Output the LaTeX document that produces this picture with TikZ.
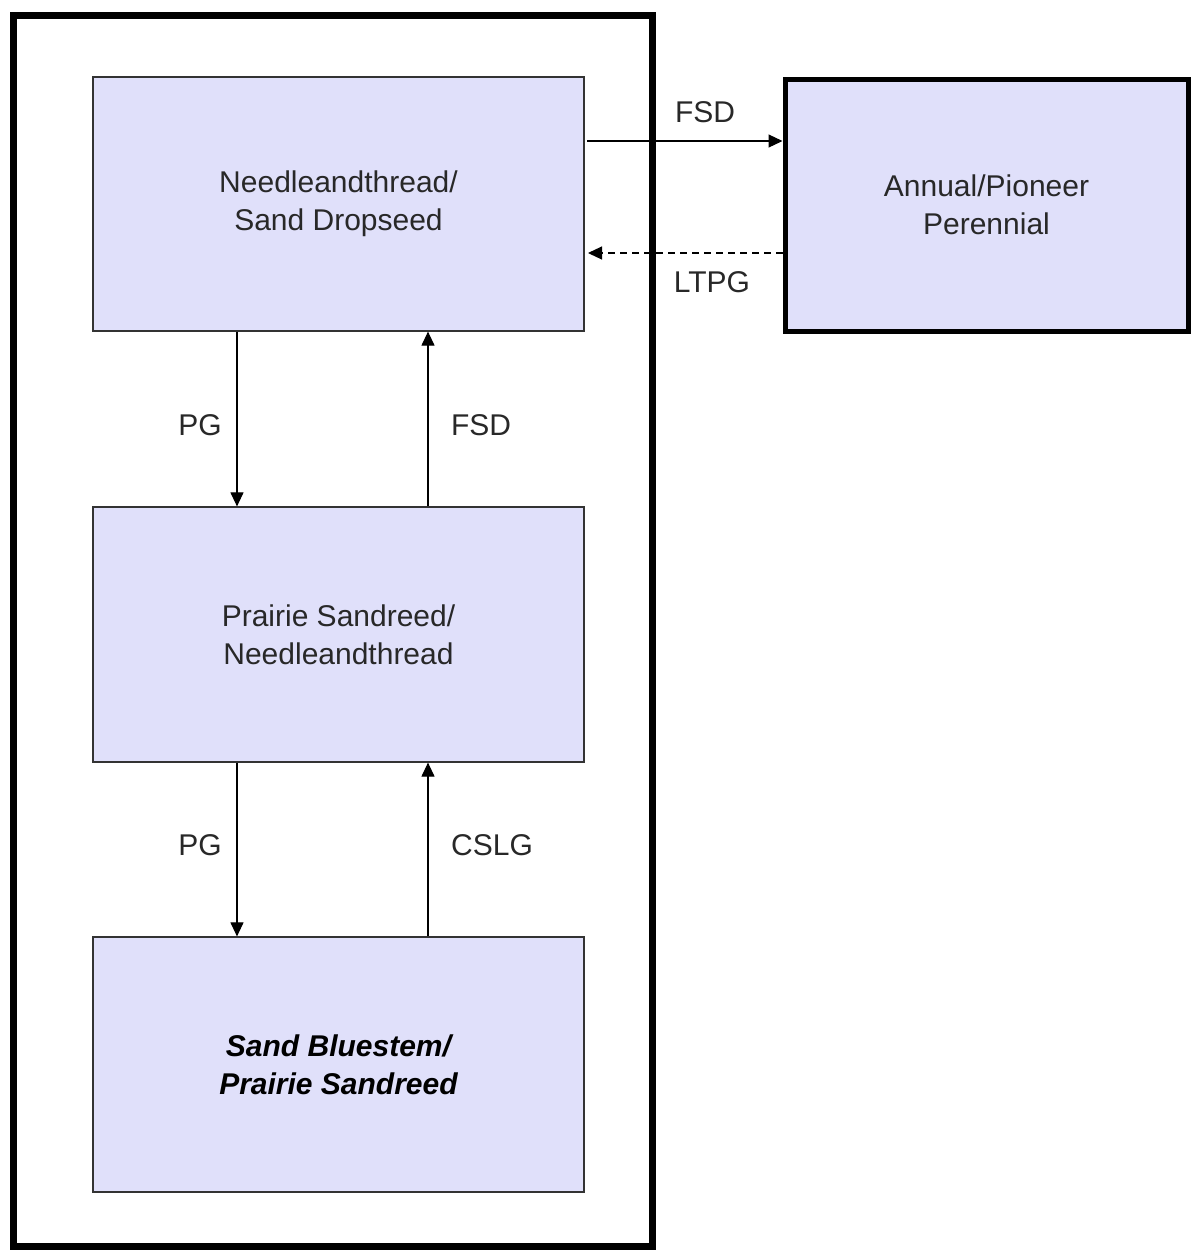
\documentclass[tikz,border=0pt]{standalone}
\usepackage{fontspec}
\setmainfont{Liberation Sans}
\usetikzlibrary{arrows.meta}
\definecolor{boxfill}{RGB}{224,224,250}
\definecolor{txt}{RGB}{40,40,40}
\begin{document}
\begin{tikzpicture}[x=1pt,y=-1pt,
  statebox/.style={draw=black!80,line width=1.2pt,fill=boxfill,align=center,font=\fontsize{30}{38}\selectfont,text=txt},
  arr/.style={line width=1.1pt,-{Triangle[length=14pt,width=13pt]}},
  lab/.style={font=\fontsize{30}{36}\selectfont,text=txt}]
\useasboundingbox (0,0) rectangle (1192,1251);
\draw[line width=7pt] (13.5,15.5) rectangle (652,1246);
\node[statebox,minimum width=491pt,minimum height=254pt] (a) at (338.5,204) {Needleandthread/\\Sand Dropseed};
\node[statebox,minimum width=491pt,minimum height=255pt] (b) at (338.5,634.5) {Prairie Sandreed/\\Needleandthread};
\node[statebox,minimum width=491pt,minimum height=255pt,font=\fontsize{30}{38}\selectfont\bfseries\itshape,text=black] (c) at (338.5,1064.5) {Sand Bluestem/\\Prairie Sandreed};
\node[statebox,draw=black,line width=5pt,minimum width=403pt,minimum height=252pt] (d) at (986.5,205) {Annual/Pioneer\\Perennial};
\coordinate (a1) at (587,141);
\coordinate (a2) at (588,253);
\draw[arr] (a1) -- (a1 -| d.west);
\draw[arr,dashed,dash pattern=on 7pt off 5pt] (d.west |- a2) -- (a2);
\draw[arr] (a.south -| 237,0) -- (b.north -| 237,0);
\draw[arr] (b.north -| 428,0) -- (a.south -| 428,0);
\draw[arr] (b.south -| 237,0) -- (c.north -| 237,0);
\draw[arr] (c.north -| 428,0) -- (b.south -| 428,0);
\node[lab] (l1) at (705,112) {FSD};
\node[lab] (l2) at (712,282) {LTPG};
\node[lab] (l3) at (200,425) {PG};
\node[lab] (l4) at (481,425) {FSD};
\node[lab] (l5) at (200,845) {PG};
\node[lab] (l6) at (492,845) {CSLG};
\end{tikzpicture}
\end{document}
